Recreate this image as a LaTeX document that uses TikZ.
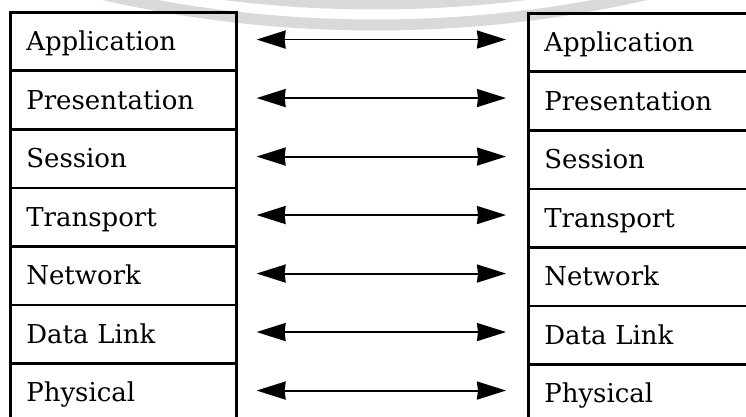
\documentclass[tikz,border=0pt]{standalone}
\usepackage{fontspec}
\setmainfont{DejaVu Serif}
\usetikzlibrary{arrows.meta}
\tikzset{
  layerbox/.style={draw, line width=2.6pt, minimum height=58.5pt, inner xsep=16pt, inner ysep=0pt,
    align=left, anchor=north west, text height=18.5pt, text depth=0pt,
    font=\fontsize{26}{27}\selectfont},
  leftbox/.style={layerbox, minimum width=226pt, text width=194pt},
  rightbox/.style={layerbox, minimum width=260pt, text width=228pt},
  peer/.style={line width=1.9pt, {Stealth[length=29pt,width=18pt,inset=1pt]}-{Stealth[length=29pt,width=18pt,inset=1pt]},
    shorten <=19pt, shorten >=21pt},
  wmark/.style={line width=11pt, black!15}
}
\begin{document}
\begin{tikzpicture}[x=1pt,y=-1pt]
\useasboundingbox (0,0) rectangle (746,417);
\clip (0,0) rectangle (746,417);
\fill[white] (0,0) rectangle (746,417);
% faint watermark rings
\draw[wmark] (375,-1191) circle[radius=1216];
\draw[wmark] (375,-1191) circle[radius=1195];
% left stack
\node[leftbox] (L1) at (9,11)    {Application};
\node[leftbox] (L2) at (9,69.5)  {Presentation};
\node[leftbox] (L3) at (9,128)   {Session};
\node[leftbox] (L4) at (9,186.5) {Transport};
\node[leftbox] (L5) at (9,245)   {Network};
\node[leftbox] (L6) at (9,303.5) {Data Link};
\node[leftbox] (L7) at (9,362)   {Physical};
% right stack
\node[rightbox] (R1) at (527,12)    {Application};
\node[rightbox] (R2) at (527,70.5)  {Presentation};
\node[rightbox] (R3) at (527,129)   {Session};
\node[rightbox] (R4) at (527,187.5) {Transport};
\node[rightbox] (R5) at (527,246)   {Network};
\node[rightbox] (R6) at (527,304.5) {Data Link};
\node[rightbox] (R7) at (527,363)   {Physical};
% peer-to-peer arrows
\foreach \i in {1,...,7}{
  \draw[peer] ([yshift=2pt]L\i.east) -- ([yshift=2pt]R\i.west |- L\i.east);
}
\end{tikzpicture}
\end{document}
